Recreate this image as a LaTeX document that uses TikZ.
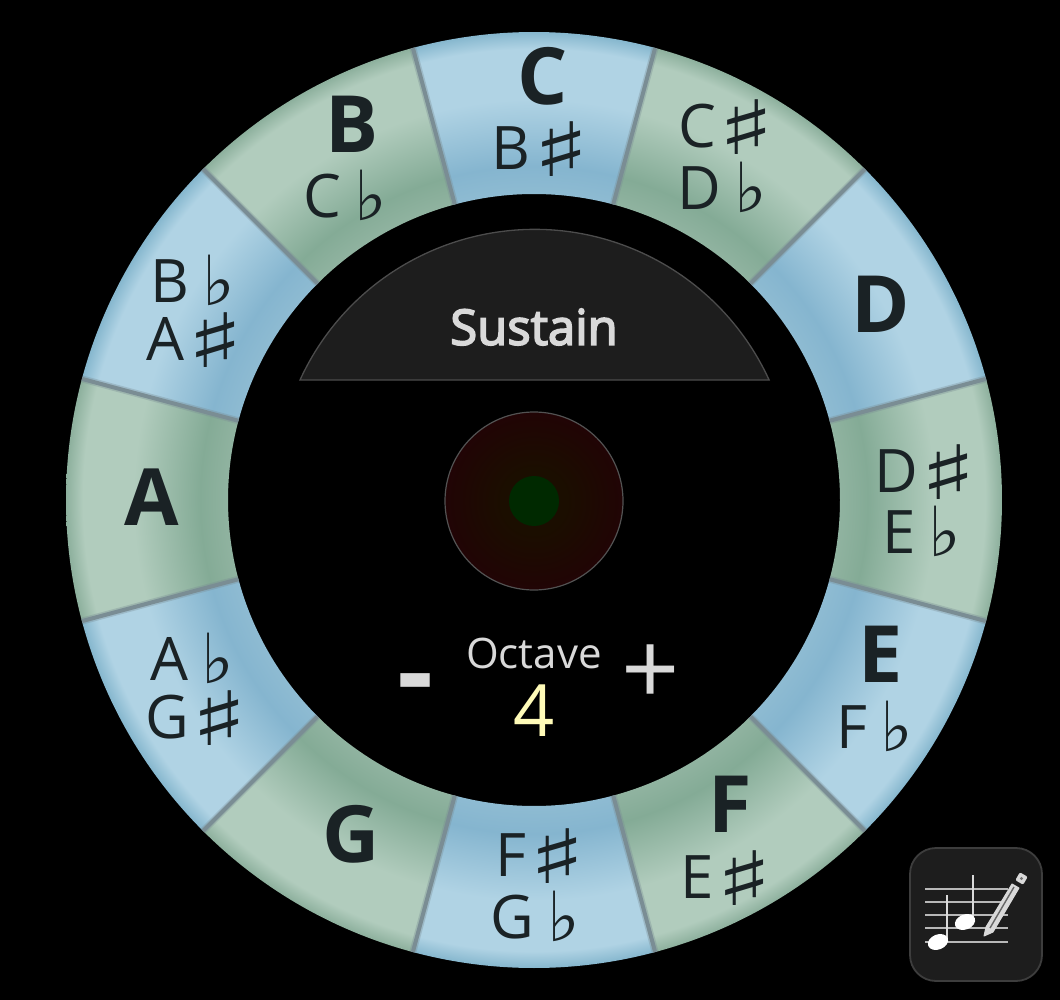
\documentclass[tikz,border=0pt]{standalone}
\usepackage{graphicx}
\usepackage{fontspec}
\setmainfont{Open Sans}
\newfontfamily\musicfont{DejaVu Sans}
\newfontfamily\semifont[FakeBold=3.5]{Open Sans}

\definecolor{keyink}{HTML}{1A2225}
\definecolor{panel}{HTML}{1D1D1D}
\definecolor{dividergray}{HTML}{7A8D94}
\definecolor{blueinner}{HTML}{8EBBD2}
\definecolor{bluedark}{HTML}{85B5CF}
\definecolor{bluelight}{HTML}{B0D3E4}
\definecolor{blueedge}{HTML}{86B7CE}
\definecolor{greeninner}{HTML}{90B3A0}
\definecolor{greendark}{HTML}{84AB96}
\definecolor{greenlight}{HTML}{B1CCBD}
\definecolor{greenedge}{HTML}{8DB09D}
\definecolor{coreouter}{HTML}{210405}
\definecolor{coreinner}{HTML}{1B0E00}

\pgfdeclareradialshading{ringblue}{\pgfpoint{0bp}{0bp}}{color(0bp)=(blueinner); color(16.35bp)=(blueinner); color(17.84bp)=(bluedark); color(21.4bp)=(bluelight); color(24.1bp)=(bluelight); color(25bp)=(blueedge); color(50bp)=(blueedge)}
\pgfdeclareradialshading{ringgreen}{\pgfpoint{0bp}{0bp}}{color(0bp)=(greeninner); color(16.35bp)=(greeninner); color(17.84bp)=(greendark); color(21.4bp)=(greenlight); color(24.1bp)=(greenlight); color(25bp)=(greenedge); color(50bp)=(greenedge)}
\pgfdeclareradialshading{coreglow}{\pgfpoint{0bp}{0bp}}{color(0bp)=(coreinner); color(9bp)=(coreinner); color(25bp)=(coreouter); color(50bp)=(coreouter)}

\tikzset{
  bigkey/.style={anchor=base,text=keyink,font=\fontsize{79}{79}\bfseries\selectfont},
  smallkey/.style={anchor=base,text=keyink,font=\fontsize{60}{60}\selectfont},
  divider/.style={line width=4pt,draw=dividergray},
  dividerglow/.style={line width=7pt,draw=dividergray,opacity=.35},
  staffline/.style={line width=1.6pt,draw=white!72!black},
  stem/.style={line width=1.4pt,draw=white!85!black}
}
\newcommand{\shrp}{\hspace{2pt}\raisebox{-7pt}{\scalebox{2}[1.25]{\musicfont\fontsize{60}{60}\selectfont ♯}}}
\newcommand{\flt}{\hspace{13pt}\raisebox{-3pt}{\scalebox{1.15}[1.15]{\musicfont\fontsize{60}{60}\selectfont ♭}}}

\begin{document}
\begin{tikzpicture}[x=1pt,y=-1pt]
    \fill[black] (0,0) rectangle (1060,1000);
    \useasboundingbox (0,0) rectangle (1060,1000);

    % Ring
    \begin{scope}[shift={(534,500)},y=1pt]
        \foreach \a/\col in {90/ringblue,60/ringgreen,30/ringblue,0/ringgreen,-30/ringblue,-60/ringgreen,-90/ringblue,-120/ringgreen,-150/ringblue,180/ringgreen,150/ringblue,120/ringgreen}{
            \begin{scope}
                \clip (\a-15:306) arc[start angle=\a-15,end angle=\a+15,radius=306]
                    -- (\a+15:468) arc[start angle=\a+15,end angle=\a-15,radius=468] -- cycle;
                \shade[shading=\col] (0,0) circle (468);
            \end{scope}
        }
        \foreach \a in {15,45,...,345}{
            \coordinate (in\a) at (\a:306);
            \coordinate (out\a) at (\a:468);
            \draw[dividerglow] (in\a) -- (out\a);
            \draw[divider] (in\a) -- (out\a);
        }
    \end{scope}

    % Keys
    \node[bigkey] (c) at (543,105) {C};
    \node[smallkey] (bs) at (541,170) {B\shrp};
    \node[smallkey] (cs) at (727,148) {C\shrp};
    \node[smallkey] (db) at (722,210) {D\flt};
    \node[bigkey] (d) at (881,332) {D};
    \node[smallkey] (ds) at (926,492) {D\shrp};
    \node[smallkey] (eb) at (922,553) {E\flt};
    \node[bigkey] (e) at (881,682) {E};
    \node[smallkey] (fb) at (875,748) {F\flt};
    \node[bigkey] (f) at (730,832) {F};
    \node[smallkey] (es) at (727,898) {E\shrp};
    \node[smallkey] (fs) at (541,876) {F\shrp};
    \node[smallkey] (gb) at (535,938) {G\flt};
    \node[bigkey] (g) at (351,862) {G};
    \node[smallkey] (ab) at (192,680) {A\flt};
    \node[smallkey] (gs) at (197,738) {G\shrp};
    \node[bigkey] (a) at (152,525) {A};
    \node[smallkey] (bb) at (193,302) {B\flt};
    \node[smallkey] (as) at (196,360) {A\shrp};
    \node[bigkey] (b) at (352,153) {B};
    \node[smallkey] (cb) at (345,218) {C\flt};

    % Sustain
    \draw[fill=panel,draw=white!30!black,line width=1.3pt] (300,380)
        arc[start angle=204.6,end angle=335.4,radius=258] -- cycle;
    \node[text=white!85!black,font=\fontsize{49}{49}\semifont] (sustain) at (534,327) {Sustain};

    % Centre
    \shade[shading=coreglow] (534,501) circle (89);
    \draw[draw=white!32!black,line width=1.2pt] (534,501) circle (89);
    \fill[green!16!black] (534,501) circle (25);

    % Octave
    \node[text=white!85!black,font=\fontsize{42}{42}\selectfont] (octave) at (534,653) {Octave};
    \node[text=yellow!28!white,font=\fontsize{72}{72}\selectfont] (value) at (534,711) {4};
    \node[text=white!85!black,font=\fontsize{112}{112}\bfseries\selectfont] (minus) at (416,692) {-};
    \node[text=white!85!black,font=\fontsize{102}{102}\selectfont] (plus) at (651,675) {+};

    % Icon
    \draw[fill=panel,draw=white!24!black,line width=1.8pt,rounded corners=26pt] (910,848) rectangle (1042,981);
    \foreach \y in {889,902,915,928,942}{
        \draw[staffline] (925,\y) -- (1008,\y);
    }
    \draw[stem] (947,895) -- (947,942);
    \draw[stem] (973,875) -- (973,918);
    \fill[white,rotate around={22:(938,942)}] (938,942) ellipse (10.5 and 7.5);
    \fill[white,rotate around={22:(965,922)}] (965,922) ellipse (10.5 and 7.5);
    \draw[fill=white!85!black,draw=white!85!black,line width=1pt,line join=round]
        (984,936) -- (986,927) -- (1012,884) -- (1019,888) -- (993,932) -- cycle;
    \draw[draw=white!40!black,line width=1.4pt] (990,928) -- (1014,887);
    \draw[fill=white!85!black,draw=white!85!black,line width=1pt,rounded corners=1pt]
        (1016,880) -- (1020,873) -- (1027,877) -- (1023,884) -- cycle;
    \fill[white!45!black] (1021.5,878.5) circle (1.6);
\end{tikzpicture}
\end{document}
